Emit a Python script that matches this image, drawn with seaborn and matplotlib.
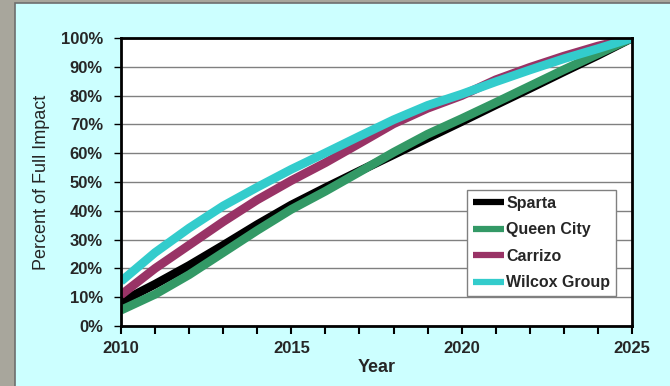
import pandas as pd
import matplotlib.pyplot as plt
import seaborn as sns
from matplotlib.patches import Rectangle
from matplotlib.ticker import MultipleLocator, FuncFormatter

# --- Data (percent of full impact) ---
years = list(range(2010, 2026))
sparta = [8.4, 14.5, 21.0, 28.0, 35.2, 42.0, 48.0, 53.8, 59.5, 65.3, 71.0, 76.8, 82.5, 88.3, 94.0, 100]
queen_city = [5.5, 11.0, 17.8, 25.5, 33.2, 40.5, 46.8, 53.5, 60.3, 66.6, 72.0, 77.6, 83.3, 89.0, 94.5, 100]
carrizo = [10.8, 20.0, 28.1, 36.2, 43.8, 50.5, 56.7, 63.4, 70.2, 75.6, 80.0, 85.5, 89.8, 93.7, 97.2, 100]
wilcox = [15.5, 25.5, 34.0, 41.7, 48.2, 54.4, 60.1, 65.9, 71.6, 76.6, 80.5, 84.8, 88.9, 92.8, 96.3, 100]

series_names = ["Sparta", "Queen City", "Carrizo", "Wilcox Group"]
series_colors = ["#000000", "#339966", "#993366", "#33CCCC"]

rows = []
for name, vals in zip(series_names, [sparta, queen_city, carrizo, wilcox]):
    for y, v in zip(years, vals):
        rows.append({"Year": y, "Percent": v, "Aquifer": name})
df = pd.DataFrame(rows)

# --- Style ---
sns.set_style("white")
plt.rcParams["font.family"] = ["Liberation Sans", "DejaVu Sans"]

fig = plt.figure(figsize=(6.7, 3.86), dpi=100)
fig.patch.set_facecolor("#a8a69c")
# cyan chart area with a dark edge on left/top
bg = Rectangle((15 / 670, -0.01), 1, 1 - 3 / 386 + 0.01, transform=fig.transFigure,
               facecolor="#ccffff", edgecolor="#6e6e6e", linewidth=1.2, zorder=-10)
fig.add_artist(bg)

ax = fig.add_axes([121 / 670, 1 - 326 / 386, 511 / 670, 288 / 386])
ax.set_zorder(1)
ax.set_facecolor("white")

sns.lineplot(data=df, x="Year", y="Percent", hue="Aquifer", hue_order=series_names,
             palette=series_colors, linewidth=6.3, ax=ax, solid_capstyle="butt",
             solid_joinstyle="round")

ax.set_xlim(2010, 2025)
ax.set_ylim(0, 100)
ax.xaxis.set_major_locator(MultipleLocator(5))
ax.xaxis.set_minor_locator(MultipleLocator(1))
ax.yaxis.set_major_locator(MultipleLocator(10))
ax.yaxis.set_major_formatter(FuncFormatter(lambda v, p: f"{v:.0f}%"))

ax.grid(axis="y", color="#808080", linewidth=1)
ax.set_axisbelow(True)
for s in ax.spines.values():
    s.set_color("black")
    s.set_linewidth(2)

ax.tick_params(axis="both", which="both", direction="out", color="black")
ax.tick_params(axis="x", which="major", length=6, width=1.5, labelsize=12, pad=5)
ax.tick_params(axis="x", which="minor", length=6, width=1.5)
ax.tick_params(axis="y", length=5, width=1, labelsize=12, pad=8)
ax.tick_params(bottom=True, left=True, which="both")
for lbl in ax.get_xticklabels() + ax.get_yticklabels():
    lbl.set_fontweight("bold")

ax.set_xlabel("Year", fontsize=13, fontweight="bold", labelpad=2)
ax.set_ylabel("Percent of Full Impact", fontsize=13, labelpad=8)

leg = ax.legend(loc="upper left", bbox_to_anchor=(0.677, 0.472), borderaxespad=0,
                frameon=True, fancybox=False, edgecolor="#808080", framealpha=1,
                handlelength=2.0, handletextpad=0.1, labelspacing=0.72,
                borderpad=0.35, prop={"weight": "bold", "size": 11.5})
leg.get_frame().set_linewidth(1)
for line in leg.get_lines():
    line.set_linewidth(4.5)

fig.savefig("out.png", dpi=100, facecolor=fig.get_facecolor())
